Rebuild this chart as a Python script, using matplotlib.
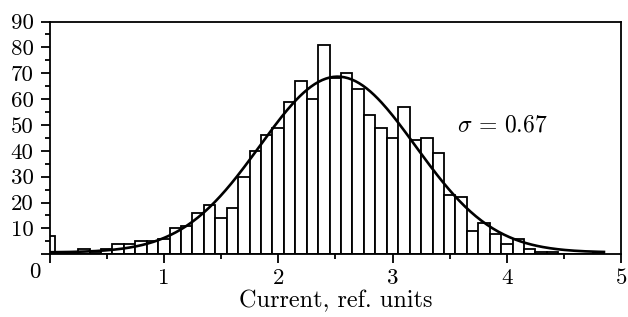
import numpy as np
import matplotlib
matplotlib.use('Agg')
import matplotlib.pyplot as plt
from matplotlib.ticker import MultipleLocator

plt.rcParams['font.family'] = 'serif'
plt.rcParams['font.serif'] = ['cmr10']
plt.rcParams['mathtext.fontset'] = 'cm'
plt.rcParams['axes.formatter.use_mathtext'] = True

# histogram counts, bins of 0.1 centred on 0.0 ... 4.8
bin_centers = [round(0.1 * i, 1) for i in range(49)]
counts = [7, 1, 1, 2, 1, 2, 4, 4, 5, 5,
          6, 10, 11, 16, 19, 14, 18, 30, 40, 46,
          49, 59, 67, 60, 81, 68, 70, 64, 54, 49,
          45, 57, 44, 45, 39, 23, 22, 9, 12, 8,
          4, 6, 2, 1, 1, 0, 0, 0, 1]

# gaussian fit
fit_mean = 2.52
fit_sigma = 0.68
fit_amp = 68.0
fit_offset = 0.7
fit_x = np.linspace(0, 4.85, 300)
fit_y = fit_offset + fit_amp * np.exp(-(fit_x - fit_mean) ** 2 / (2 * fit_sigma ** 2))

fig = plt.figure(figsize=(6.28, 3.17), dpi=100)
ax = fig.add_axes([0.079, 0.198, 0.910, 0.734])

ax.bar(bin_centers, counts, width=0.1, facecolor='white', edgecolor='black', linewidth=1.3)
ax.plot(fit_x, fit_y, color='black', linewidth=1.9)

ax.set_xlim(0, 5)
ax.set_ylim(0, 90)

ax.xaxis.set_major_locator(MultipleLocator(1))
ax.xaxis.set_minor_locator(MultipleLocator(0.5))
ax.yaxis.set_major_locator(MultipleLocator(10))
ax.yaxis.set_minor_locator(MultipleLocator(5))
ax.set_xticklabels(['' if t == 0 else str(int(t)) for t in ax.get_xticks()])
ax.set_yticks(range(0, 91, 10))
ax.set_yticklabels([''] + [str(v) for v in range(10, 91, 10)])

ax.tick_params(which='major', direction='out', length=6.5, width=1.3, labelsize=16.5, pad=4)
ax.tick_params(which='minor', direction='out', length=3.3, width=1.3)
ax.tick_params(axis='y', pad=5)
for s in ax.spines.values():
    s.set_linewidth(1.3)

fig.text(35 / 628, 1 - 272 / 317, '0', fontsize=16.5, ha='center', va='center')

ax.set_xlabel('Current, ref. units', fontsize=17.5, labelpad=1)
ax.text(3.56, 50, r'$\sigma\, =\, 0.67$', fontsize=17, ha='left', va='center')

fig.savefig('out.png', dpi=100)
